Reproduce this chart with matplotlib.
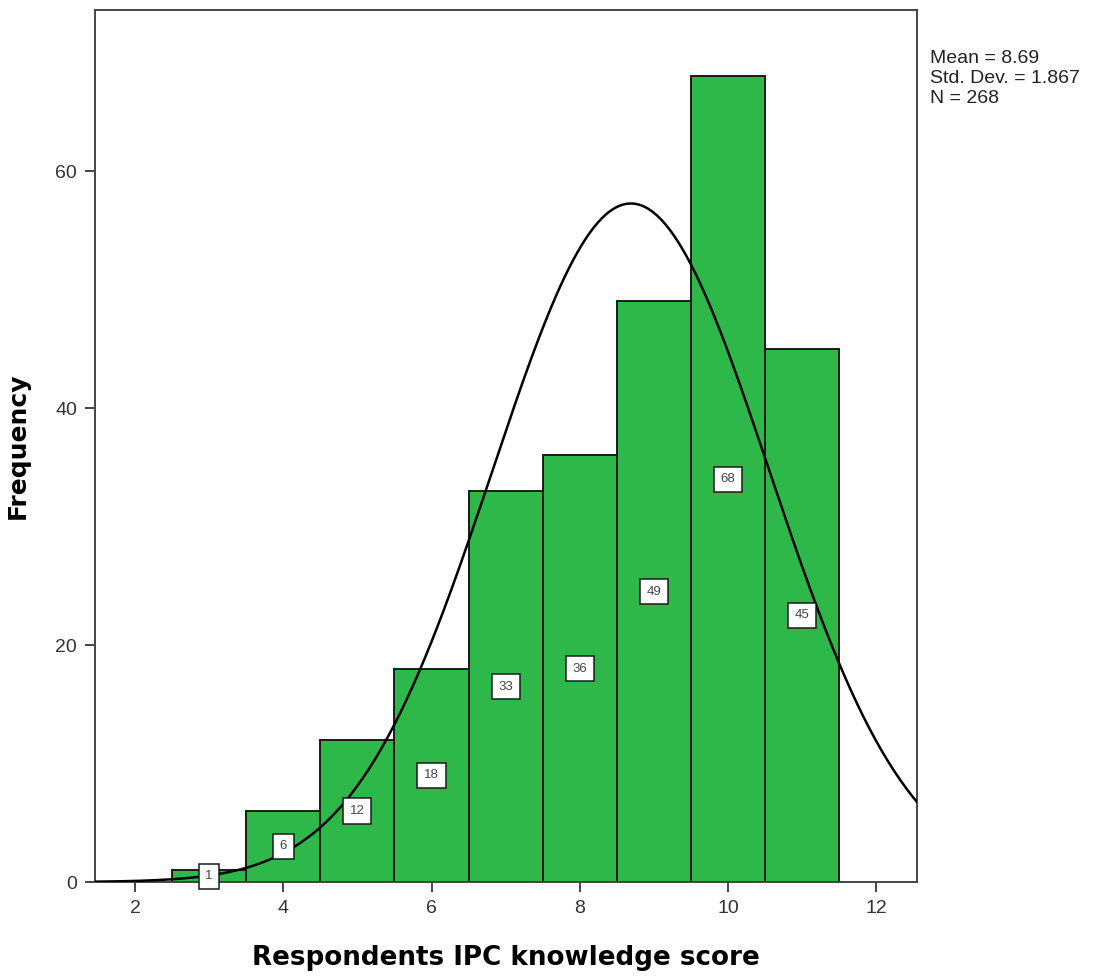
import numpy as np
import matplotlib.pyplot as plt

# histogram of knowledge scores (SPSS style)
scores = [3, 4, 5, 6, 7, 8, 9, 10, 11]
counts = [1, 6, 12, 18, 33, 36, 49, 68, 45]
mean_val = 8.69
sd_val = 1.867
n_total = 268

green = "#2eb84a"
edge = "#1a1a1a"

fig = plt.figure(figsize=(11.06, 9.77), dpi=100)
ax = fig.add_axes([0.0859, 0.0972, 0.7432, 0.8926])

ax.bar(scores, counts, width=1.0, color=green, edgecolor=edge, linewidth=1.4, zorder=2)

# normal curve scaled to counts
xs = np.linspace(1.46, 12.55, 400)
ys = n_total * 1.0 / (sd_val * np.sqrt(2 * np.pi)) * np.exp(-0.5 * ((xs - mean_val) / sd_val) ** 2)
ax.plot(xs, ys, color="black", linewidth=1.8, zorder=3)

# count labels in the middle of each bar
for s, c in zip(scores, counts):
    ax.text(s, c / 2, str(c), ha="center", va="center", fontsize=9.5, color="#444444",
            family="Liberation Sans", zorder=4,
            bbox=dict(boxstyle="square,pad=0.5", facecolor="white", edgecolor=edge, linewidth=1.1))

ax.set_xlim(1.46, 12.55)
ax.set_ylim(0, 73.6)
ax.set_xticks([2, 4, 6, 8, 10, 12])
ax.set_yticks([0, 20, 40, 60])
ax.tick_params(direction="out", length=7, width=1.4, color="#444444", labelsize=14,
               labelcolor="#333333", pad=6)
for lab in ax.get_xticklabels() + ax.get_yticklabels():
    lab.set_family("Liberation Sans")
for sp in ax.spines.values():
    sp.set_color("#444444")
    sp.set_linewidth(1.4)

ax.set_xlabel("Respondents IPC knowledge score", fontsize=18.8, fontweight="bold", labelpad=20)
ax.set_ylabel("Frequency", fontsize=18, fontweight="bold", labelpad=18)

fig.text(0.841, 0.949, "Mean = 8.69\nStd. Dev. = 1.867\nN = 268", fontsize=14,
         family="Liberation Sans", va="top", ha="left", linespacing=1.25, color="#222222")

fig.savefig("out.png", dpi=100, facecolor="white")
